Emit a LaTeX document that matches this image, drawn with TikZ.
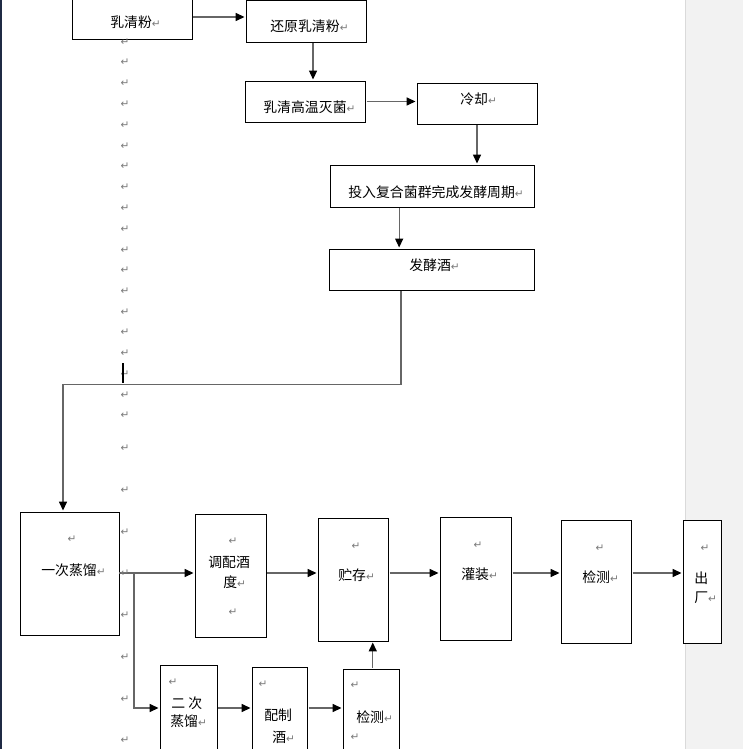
\documentclass[tikz,border=0pt]{standalone}
\usepackage{fontspec}
\usepackage{tikz}
\usetikzlibrary{arrows.meta,fit}
\newfontfamily\cjk{Noto Sans CJK SC}
\newfontfamily\symfont{DejaVu Sans}
\definecolor{linegray}{HTML}{666666}
\definecolor{markgray}{HTML}{7A7A7A}
\definecolor{panelgray}{HTML}{F2F2F2}
\definecolor{paneledge}{HTML}{DADADA}
\definecolor{pageedge}{HTML}{1F2A44}
\newcommand{\pmk}{{\symfont\fontsize{6}{6}\selectfont\color{markgray}↵}}

\begin{document}
\begin{tikzpicture}[x=0.02cm, y=-0.02cm,
    box/.style={draw, fill=white, inner sep=0pt, line width=0.5pt},
    txt/.style={anchor=west, inner sep=0pt, font=\cjk\fontsize{7.9}{9}\selectfont},
    pm/.style={inner sep=0pt},
    arr/.style={draw=linegray, line width=0.7pt, shorten <=0.6pt, shorten >=0.6pt,
        -{Triangle[length=5pt,width=4.5pt,black]}}]

    % Page size and clipping
    \useasboundingbox (0,0) rectangle (743,749);
    \clip (0,0) rectangle (743,749);
    \fill[white] (0,0) rectangle (743,749);

    % Page edge on the left and the grey area on the right
    \fill[pageedge] (0,0) rectangle (2,749);
    \fill[panelgray] (685,0) rectangle (743,749);
    \draw[paneledge, line width=0.6pt] (685.5,0) -- (685.5,749);

    % Rows used by the horizontal connectors
    \coordinate (row1) at (0,573);
    \coordinate (row2) at (0,708);
    \coordinate (fork) at (134,573);

    % Draw the boxes
    \node[box, fit={(72,-5) (192,39)}] (rqf) {};
    \node[box, fit={(246,0) (366,42)}] (hyrqf) {};
    \node[box, fit={(245,81) (365,122)}] (gwmj) {};
    \node[box, fit={(417,83) (537,124)}] (lq) {};
    \node[box, fit={(330,165) (534,207)}] (trjq) {};
    \node[box, fit={(329,249) (534,290)}] (fjj) {};
    \node[box, fit={(20,512) (119,635)}] (ycz) {};
    \node[box, fit={(195,514) (266,637)}] (tp) {};
    \node[box, fit={(318,518) (388,641)}] (zc) {};
    \node[box, fit={(440,517) (511,640)}] (gz) {};
    \node[box, fit={(561,520) (631,643)}] (jc1) {};
    \node[box, fit={(683,520) (721,643)}] (cc) {};
    \node[box, fit={(160,665) (217,775)}] (ecz) {};
    \node[box, fit={(252,667) (307,775)}] (pzj) {};
    \node[box, fit={(343,669) (399,775)}] (jc2) {};

    % Upper chain
    \draw[arr] (rqf.east) -- (rqf.east -| hyrqf.west);
    \draw[arr] ([xshift=4pt]hyrqf.south) -- ([xshift=4pt]hyrqf.south |- gwmj.north);
    \draw[arr] (gwmj.east) -- (gwmj.east -| lq.west);
    \draw[arr] (lq.south) -- (lq.south |- trjq.north);
    \draw[arr] ([xshift=-18.7pt]trjq.south) -- ([xshift=-18.7pt]trjq.south |- fjj.north);
    \draw[arr] ([xshift=-17.3pt]fjj.south) -- ++(0,94) -| ([xshift=-3.7pt]ycz.north);

    % Main row
    \draw[arr, shorten <=0pt] (ycz.east |- row1) -- (tp.west |- row1);
    \draw[arr] (tp.east |- row1) -- (zc.west |- row1);
    \draw[arr] (zc.east |- row1) -- (gz.west |- row1);
    \draw[arr] (gz.east |- row1) -- (jc1.west |- row1);
    \draw[arr] (jc1.east |- row1) -- (cc.west |- row1);

    % Second distillation branch
    \draw[arr, shorten <=0pt] (fork) |- (ecz.west |- row2);
    \draw[arr] (ecz.east |- row2) -- (pzj.west |- row2);
    \draw[arr] (pzj.east |- row2) -- (jc2.west |- row2);
    \draw[arr] ([xshift=1pt]jc2.north) -- ([xshift=1pt]jc2.north |- zc.south);

    % Paragraph marks down the page
    \foreach \y [count=\i] in {42,62,83,104,125,146,166,187,208,229,250,270,291,312,
        332,353,374,395,415,448,490,532,573,615,657,699,740}
        \node[pm] (col\i) at (125,\y) {\pmk};

    % Empty paragraphs inside the boxes
    \foreach \x/\y [count=\i] in {72/539, 233/541, 233/612, 356/546, 478/545, 600/548,
        705/548, 173/682, 263/684, 355/685, 355/737}
        \node[pm] (inner\i) at (\x,\y) {\pmk};

    % Text cursor
    \draw[line width=1.1pt] (123,363) -- (123,383);

    % Box texts
    \node[txt] (rqf-t) at (110,22) {乳清粉\pmk};
    \node[txt] (hyrqf-t) at (270,26) {还原乳清粉\pmk};
    \node[txt] (gwmj-t) at (263,107) {乳清高温灭菌\pmk};
    \node[txt] (lq-t) at (460,99) {冷却\pmk};
    \node[txt] (trjq-t) at (348,192) {投入复合菌群完成发酵周期\pmk};
    \node[txt] (fjj-t) at (409,265) {发酵酒\pmk};
    \node[txt] (ycz-t) at (41,570) {一次蒸馏\pmk};
    \node[txt] (tp-t1) at (208,562) {调配酒};
    \node[txt] (tp-t2) at (223,582) {度\pmk};
    \node[txt] (zc-t) at (338,575) {贮存\pmk};
    \node[txt] (gz-t) at (461,574) {灌装\pmk};
    \node[txt] (jc1-t) at (582,577) {检测\pmk};
    \node[txt] (cc-t1) at (694,578) {出};
    \node[txt] (cc-t2) at (694,598) {厂\pmk};
    \node[txt] (ecz-t1) at (171,703) {二 次};
    \node[txt] (ecz-t2) at (170,721) {蒸馏\pmk};
    \node[txt] (pzj-t1) at (264,715) {配制};
    \node[txt] (pzj-t2) at (272,737) {酒\pmk};
    \node[txt] (jc2-t) at (356,717) {检测\pmk};

\end{tikzpicture}
\end{document}
